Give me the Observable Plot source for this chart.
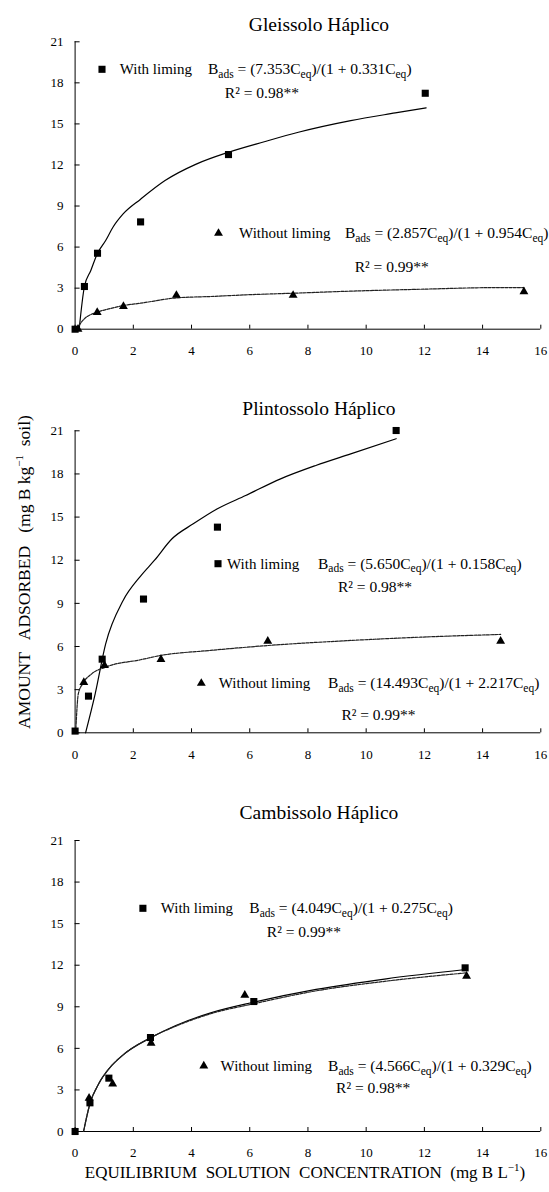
<!DOCTYPE html>
<html><head><meta charset="utf-8">
<script src="https://cdn.jsdelivr.net/npm/d3@7"></script>
<script src="https://cdn.jsdelivr.net/npm/@observablehq/plot@0.6"></script>
<style>
body{margin:0;background:#fff;}
#root{position:relative;width:549px;height:1192px;overflow:hidden;background:#fff;}
#root svg{position:absolute;left:0;overflow:visible;}
</style></head><body><div id="root"></div>
<script>
const xTicks = [0, 2, 4, 6, 8, 10, 12, 14, 16];
const yTicks = [0, 3, 6, 9, 12, 15, 18, 21];
const soilNames = ["Gleissolo Háplico", "Plintossolo Háplico", "Cambissolo Háplico"];
const seriesLabels = ["With liming", "Without liming"];
const eqWithA = ["7.353", "5.650", "4.049"];
const eqWithB = ["0.331", "0.158", "0.275"];
const eqWithoutA = ["2.857", "14.493", "4.566"];
const eqWithoutB = ["0.954", "2.217", "0.329"];
const r2With = ["0.98", "0.98", "0.99"];
const r2Without = ["0.99", "0.99", "0.98"];
const yAxisLabel = ["AMOUNT   ADSORBED   (mg B kg", "\u22121", "  soil)"];
const xAxisLabel = ["EQUILIBRIUM  SOLUTION  CONCENTRATION  (mg B L", "\u22121", ")"];

// Gleissolo Háplico
const gleiWithC = [0, 0.32, 0.77, 2.25, 5.27, 12.03];
const gleiWithB = [0, 3.12, 5.55, 7.84, 12.76, 17.24];
const gleiWithoutC = [0.1, 0.76, 1.66, 3.48, 7.49, 15.42];
const gleiWithoutB = [0, 1.22, 1.66, 2.48, 2.48, 2.75];
const gleiFitWithC = [0.14, 0.32, 0.54, 0.77, 1.05, 1.3, 1.65, 2.25, 3.09, 4.18, 5.27, 6.5, 7.67, 9.47, 11.0, 12.06];
const gleiFitWithB = [0, 3.12, 4.29, 5.55, 6.48, 7.45, 8.42, 9.5, 10.86, 12.08, 12.93, 13.7, 14.39, 15.24, 15.8, 16.17];
const gleiFitWithoutC = [0.05, 0.3, 0.76, 1.2, 1.66, 2.25, 3.48, 4.66, 5.86, 7.49, 9.47, 11.88, 14.52, 15.42];
const gleiFitWithoutB = [0, 0.72, 1.24, 1.5, 1.73, 1.9, 2.29, 2.39, 2.51, 2.63, 2.78, 2.92, 3.04, 3.04];

// Plintossolo Háplico
const plinWithC = [0, 0.46, 0.93, 2.35, 4.89, 11.03];
const plinWithB = [0.12, 2.55, 5.12, 9.3, 14.3, 21.02];
const plinWithoutC = [0.3, 1.01, 2.95, 6.62, 14.62];
const plinWithoutB = [3.5, 4.68, 5.1, 6.37, 6.37];
const plinFitWithC = [0.36, 0.69, 1.05, 1.65, 2.25, 2.73, 3.33, 4.06, 4.89, 5.86, 7.06, 8.27, 9.47, 11.03];
const plinFitWithB = [0, 2.71, 6.19, 9.2, 10.9, 12.0, 13.49, 14.53, 15.58, 16.5, 17.66, 18.59, 19.4, 20.45];
const plinFitWithoutC = [0.02, 0.11, 0.26, 0.57, 1.05, 2.25, 2.95, 4.66, 6.62, 9.47, 11.87, 14.62];
const plinFitWithoutB = [0, 2.71, 3.41, 4.1, 4.57, 5.08, 5.38, 5.73, 6.07, 6.42, 6.65, 6.84];

// Cambissolo Háplico
const cambWithC = [0, 0.51, 1.16, 2.59, 6.14, 13.4];
const cambWithB = [0, 2.07, 3.85, 6.78, 9.38, 11.81];
const cambWithoutC = [0.48, 1.29, 2.61, 5.83, 13.45];
const cambWithoutB = [2.41, 3.44, 6.37, 9.84, 11.21];
const cambFitWithC = [0.29, 0.51, 0.81, 1.16, 1.65, 2.59, 3.46, 4.66, 6.14, 8.28, 10.69, 13.42];
const cambFitWithB = [0, 2.0, 3.44, 4.52, 5.53, 6.76, 7.65, 8.56, 9.33, 10.25, 11.02, 11.69];
const cambFitWithoutC = [0.29, 0.51, 0.81, 1.16, 1.65, 2.59, 3.46, 4.66, 6.14, 8.28, 10.69, 13.45];
const cambFitWithoutB = [0, 2.0, 3.44, 4.52, 5.53, 6.76, 7.6, 8.5, 9.22, 10.15, 10.85, 11.45];

const zip = (c, b) => c.map((v, i) => ({c: v, b: b[i]}));

const panels = [
  {top: 0, height: 380, mt: 41.3, titleY: 24,
   pts: [zip(gleiWithC, gleiWithB), zip(gleiWithoutC, gleiWithoutB)],
   fits: [zip(gleiFitWithC, gleiFitWithB), zip(gleiFitWithoutC, gleiFitWithoutB)],
   notes: [{mx: 102, my: 69.3, lx: 119.7, ex: 208, rx: 224.8, ry: 93.3},
           {mx: 218.5, my: 233.3, lx: 239.1, ex: 344.9, rx: 354.7, ry: 267.3}]},
  {top: 380, height: 400, mt: 50.3, titleY: 28.3,
   pts: [zip(plinWithC, plinWithB), zip(plinWithoutC, plinWithoutB)],
   fits: [zip(plinFitWithC, plinFitWithB), zip(plinFitWithoutC, plinFitWithoutB)],
   notes: [{mx: 218, my: 183.7, lx: 227, ex: 318, rx: 338, ry: 206.7},
           {mx: 201.3, my: 303.3, lx: 218.8, ex: 328.1, rx: 341.4, ry: 335}]},
  {top: 780, height: 412, mt: 60, titleY: 32.7,
   pts: [zip(cambWithC, cambWithB), zip(cambWithoutC, cambWithoutB)],
   fits: [zip(cambFitWithC, cambFitWithB), zip(cambFitWithoutC, cambFitWithoutB)],
   notes: [{mx: 142.9, my: 128.3, lx: 160.7, ex: 249.3, rx: 266.8, ry: 151.7},
           {mx: 203.8, my: 286, lx: 220.6, ex: 328.1, rx: 336.1, ry: 308.3}]}
];
const plotBottom = [328.7, 352.3, 351];

const FONT = "Liberation Serif, Times New Roman, serif";
const root = document.getElementById("root");

function addEquation(g, x, y, a, b) {
  const t = g.append("text").attr("x", x).attr("y", y).attr("font-size", 15.5)
    .attr("text-anchor", "start").style("white-space", "pre");
  const big = (s, dy) => t.append("tspan").attr("font-size", 15.5).attr("dy", dy).text(s);
  const sub = (s) => t.append("tspan").attr("font-size", 11.5).attr("dy", 3.5).text(s);
  big("B", 0); sub("ads"); big(" = (" + a + "C", -3.5); sub("eq");
  big(")/(1 + " + b + "C", -3.5); sub("eq"); big(")", -3.5);
}

panels.forEach((p, i) => {
  const chart = Plot.plot({
    width: 549,
    height: p.height,
    marginLeft: 74.6,
    marginRight: 8.7,
    marginTop: p.mt,
    marginBottom: p.height - plotBottom[i],
    style: {fontFamily: FONT, fontSize: "13px", background: "transparent", color: "black"},
    x: {domain: [0, 16]},
    y: {domain: [0, 21]},
    marks: [
      Plot.ruleX([0], {y1: 0, y2: 21, stroke: "black", strokeWidth: 1}),
      Plot.ruleY([0], {x1: 0, x2: 16, stroke: "black", strokeWidth: 1}),
      Plot.axisX({ticks: xTicks, tickSize: -4, tickPadding: 20.5, label: null, fontSize: 13, fontFamily: FONT}),
      Plot.axisY({ticks: yTicks, tickSize: -5, tickPadding: 16.5, label: null, fontSize: 13, fontFamily: FONT}),
      Plot.line(p.fits[0], {x: "c", y: "b", stroke: "black", strokeWidth: 1.2, curve: "monotone-x"}),
      Plot.line(p.fits[1], {x: "c", y: "b", stroke: "#222", strokeWidth: 1.2, strokeDasharray: "3,1.2", curve: "monotone-x"}),
      Plot.dot(p.pts[0], {x: "c", y: "b", symbol: "square", r: 4, fill: "black", stroke: null}),
      Plot.dot(p.pts[1], {x: "c", y: "b", symbol: "triangle", r: 3.3, fill: "black", stroke: null}),
      Plot.text([soilNames[i]], {frameAnchor: "top", dx: 11, dy: p.titleY - p.mt, fontSize: 19.5, fontFamily: FONT, lineAnchor: "middle", fill: "black"})
    ]
  });
  chart.style.top = p.top + "px";
  root.appendChild(chart);
  const g = d3.select(chart).append("g").attr("font-family", FONT).attr("fill", "black").attr("text-anchor", "start");
  p.notes.forEach((n, k) => {
    const sym = k === 0 ? d3.symbolSquare : d3.symbolTriangle;
    const size = k === 0 ? Math.PI * 16 : Math.PI * 3.3 * 3.3;
    g.append("path").attr("d", d3.symbol(sym, size)()).attr("transform", `translate(${n.mx},${n.my})`);
    g.append("text").attr("x", n.lx).attr("y", n.my + 5).attr("font-size", 15)
      .attr("text-anchor", "start").text(seriesLabels[k]);
    addEquation(g, n.ex, n.my + 5, k === 0 ? eqWithA[i] : eqWithoutA[i], k === 0 ? eqWithB[i] : eqWithoutB[i]);
    g.append("text").attr("x", n.rx).attr("y", n.ry + 5).attr("font-size", 15.5).attr("text-anchor", "start")
      .text("R\u00B2 = " + (k === 0 ? r2With[i] : r2Without[i]) + "**");
  });
  if (i === 1) {
    const t = g.append("text").attr("transform", "translate(30,192) rotate(-90)")
      .attr("text-anchor", "middle").attr("font-size", 17.5).style("white-space", "pre");
    t.append("tspan").text(yAxisLabel[0]);
    t.append("tspan").attr("font-size", 11).attr("dy", -7).text(yAxisLabel[1]);
    t.append("tspan").attr("dy", 7).text(yAxisLabel[2]);
  }
  if (i === 2) {
    const t = g.append("text").attr("x", 305).attr("y", 398)
      .attr("text-anchor", "middle").attr("font-size", 17).style("white-space", "pre");
    t.append("tspan").text(xAxisLabel[0]);
    t.append("tspan").attr("font-size", 11).attr("dy", -7).text(xAxisLabel[1]);
    t.append("tspan").attr("dy", 7).text(xAxisLabel[2]);
  }
});
</script></body></html>
